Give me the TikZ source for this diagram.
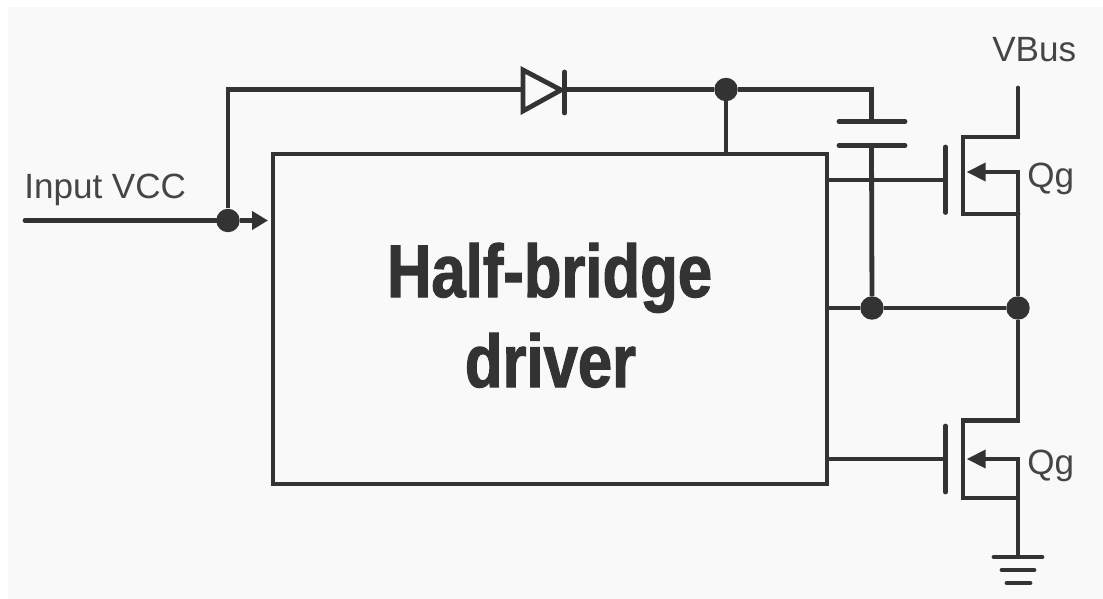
\documentclass[tikz,border=0pt]{standalone}
\usepackage{fontspec}
\setmainfont{Liberation Sans}
\newfontfamily\headfont[FakeStretch=0.825,FakeBold=1.5]{Liberation Sans Bold}
\usetikzlibrary{arrows.meta}
\definecolor{ink}{HTML}{333333}
\definecolor{txt}{HTML}{454545}
\definecolor{paper}{HTML}{F9F9F9}
\tikzset{
  x=0.75pt,y=-0.75pt,
  wire/.style={draw=ink,line width=3.6pt,line cap=butt,line join=miter},
  plate/.style={wire,line cap=round},
  dot/.style={circle,fill=ink,inner sep=0pt,minimum size=17.6pt},
  lbl/.style={text=txt,font=\fontsize{26.3pt}{30pt}\selectfont,inner sep=0pt,anchor=base west},
  head/.style={text=ink,font=\headfont\fontsize{56pt}{60pt}\selectfont,inner sep=0pt,anchor=base},
  blockbox/.style={wire,inner sep=0pt,minimum width=415.5pt,minimum height=247.5pt},
  tip/.style={-{Triangle[length=12pt,width=13.5pt]}}
}
\begin{document}
\begin{tikzpicture}
\useasboundingbox (0,0) rectangle (1103,599);
\fill[white] (0,0) rectangle (1103,599);
\fill[paper] (8,7) rectangle (1103,599);
\node[blockbox] (box) at (550,319) {};
\coordinate (in) at (25,220.5);
\coordinate (boxin) at (268,220.5);
\node[dot] (j1) at (228,220.5) {};
\node[dot] (j2) at (726,89.5) {};
\node[dot] (j3) at (872,308) {};
\node[dot] (j4) at (1018,308) {};
\coordinate (corner1) at (228,89.5);
\coordinate (corner2) at (871.5,89.5);
\coordinate (cap1) at (871.5,121.5);
\coordinate (cap2) at (871.5,145.5);
\coordinate (da) at (523,89.5);
\coordinate (dk) at (564.5,89.5);
\draw[plate] (in) -- (j1);
\draw[wire,tip] (j1) -- (boxin);
\draw[wire] (j1) -- (corner1) -- (da);
\draw[wire] (523,70) -- (561,90) -- (523,111) -- cycle;
\draw[plate] (564.5,72) -- (564.5,113);
\draw[wire] (dk) -- (j2);
\draw[wire] (j2) -- (j2 |- box.north);
\draw[wire] (j2) -- (corner2) -- (cap1);
\draw[plate] (839,121.5) -- (905,121.5);
\draw[plate] (839,145.5) -- (905,145.5);
\draw[wire] (cap2) -- (j3);
\draw[wire] (j3 -| box.east) -- (j3) -- (j4);
% upper FET
\draw[wire] (827,180) -- (945.5,180);
\draw[plate] (945.5,147) -- (945.5,212.5);
\draw[plate] (1018,88) -- (1018,137) -- (963,137) -- (963,214) -- (1018,214);
\draw[wire] (j4) -- (1018,172) -- (980,172);
\fill[ink] (967,172) -- (985.5,162.5) -- (985.5,181.5) -- cycle;
% lower FET
\draw[wire] (827,459) -- (945.5,459);
\draw[plate] (945.5,426) -- (945.5,492);
\draw[wire] (j4) -- (1018,420.5) -- (963,420.5) -- (963,498) -- (1018,498);
\draw[wire] (1018,557) -- (1018,459) -- (980,459);
\fill[ink] (967,459) -- (985.5,449.5) -- (985.5,468.5) -- cycle;
% ground
\draw[plate] (994,557) -- (1042,557);
\draw[plate] (1002,570) -- (1034,570);
\draw[plate] (1007,583) -- (1030,583);
% labels
\node[lbl] (linput) at (24,199) {Input VCC};
\node[lbl] (lvbus) at (992,62) {VBus};
\node[lbl] (lq1) at (1027,188) {Qg};
\node[lbl] (lq2) at (1027,474) {Qg};
\node[head] (h1) at (549.5,297) {Half-bridge};
\node[head] (h2) at (550.5,387) {driver};
\end{tikzpicture}
\end{document}
